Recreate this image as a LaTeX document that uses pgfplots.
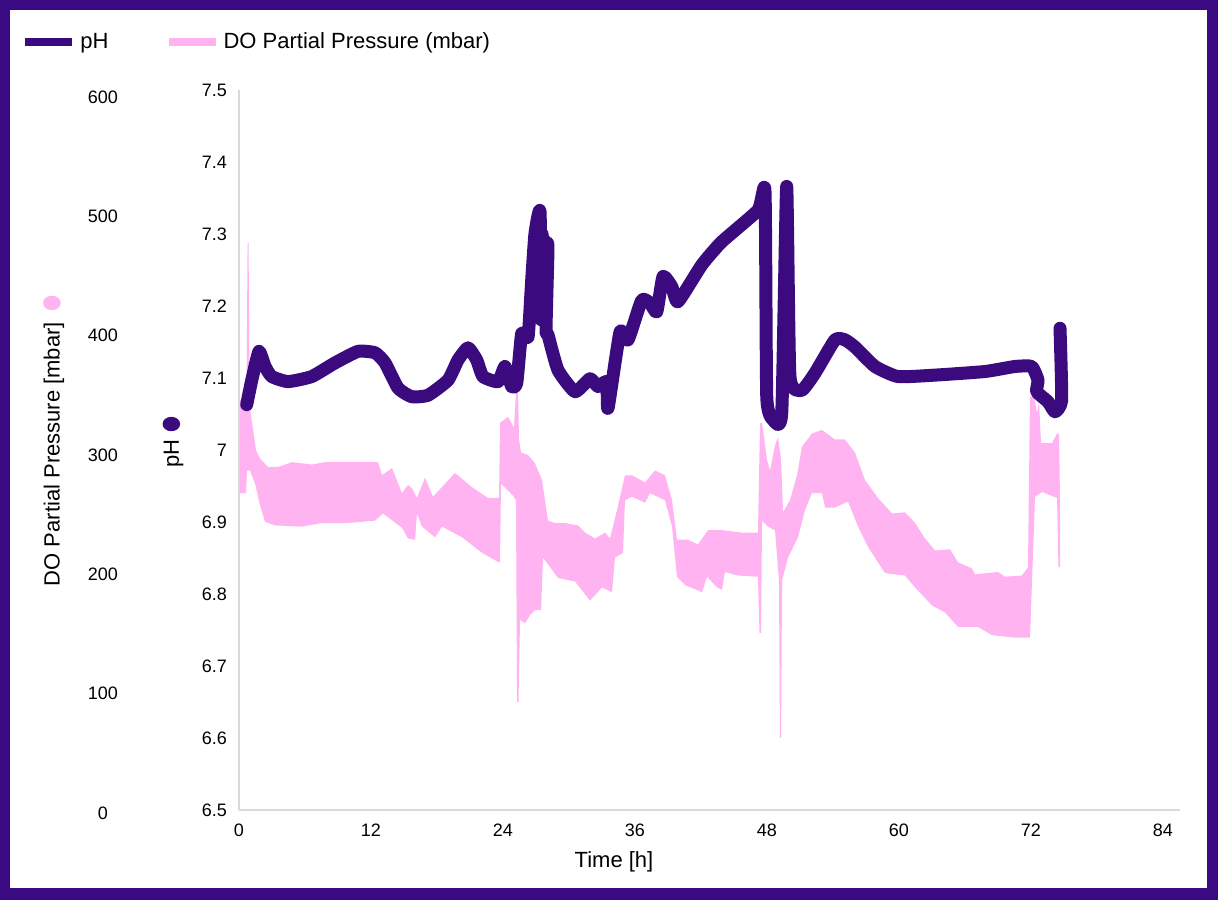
\documentclass[border=0pt]{standalone}
\usepackage{fontspec}
\setmainfont{Liberation Sans}
\usepackage{pgfplots}
\usepackage{pgfplotstable}
\pgfplotsset{compat=1.18}
\definecolor{phc}{HTML}{3A0A7E}
\definecolor{framec}{HTML}{3A0A82}
\definecolor{doc}{HTML}{FFB3F0}
\definecolor{axgray}{HTML}{D9D9D9}

\pgfplotstableread{
t ph
0.70 7.063
1.16 7.097
1.82 7.137
2.37 7.116
2.98 7.102
4.46 7.095
6.61 7.102
8.73 7.121
10.82 7.137
12.37 7.135
13.28 7.121
14.46 7.086
15.70 7.074
17.18 7.076
19.00 7.097
19.91 7.125
20.82 7.142
21.61 7.125
22.18 7.102
23.55 7.095
24.18 7.116
24.79 7.088
25.25 7.093
25.70 7.162
26.28 7.157
26.61 7.236
26.91 7.301
27.37 7.331
27.46 7.181
27.55 7.300
27.64 7.200
27.73 7.292
27.82 7.210
28.00 7.285
28.09 7.278
27.91 7.167
28.09 7.160
29.00 7.111
30.55 7.081
31.91 7.099
32.64 7.088
33.43 7.095
33.55 7.058
34.64 7.164
35.37 7.153
36.61 7.208
37.37 7.204
37.98 7.192
38.55 7.241
39.34 7.227
39.91 7.206
42.07 7.257
43.88 7.289
47.18 7.333
47.82 7.359
47.98 7.074
48.55 7.042
49.34 7.051
49.79 7.366
50.09 7.102
51.16 7.083
52.37 7.107
54.18 7.153
55.09 7.153
56.00 7.143
57.82 7.116
59.91 7.102
63.28 7.104
67.82 7.109
70.55 7.116
72.07 7.116
72.64 7.097
72.52 7.081
73.55 7.067
74.18 7.053
74.79 7.069
74.64 7.169
}\phdata

% DO partial pressure band: upper envelope (left to right), then lower envelope (right to left)
\pgfplotstableread{
t do
0.09 346
0.68 346
0.78 478
0.87 478
0.96 346
1.09 333
1.55 304
1.91 297
2.64 290
3.55 290
4.82 294
6.64 292
7.82 294
12.64 294
13.00 283
13.91 289
14.82 268
15.37 275
15.73 272
16.18 264
16.91 281
17.64 265
19.64 285
21.18 273
22.64 264
23.64 264
23.73 327
24.46 332
25.00 323
25.18 352
25.37 352
25.46 313
25.64 302
26.28 300
26.91 293
27.55 279
28.09 245
28.73 243
29.64 243
30.82 241
31.46 235
32.37 230
33.28 235
33.73 230
34.37 254
35.09 283
35.73 283
36.91 277
37.82 287
38.73 283
39.37 262
39.82 229
40.82 229
41.73 225
42.64 237
43.91 237
45.73 235
47.18 235
47.37 327
47.55 327
48.00 296
48.28 287
48.73 308
49.00 315
49.28 296
49.46 252
50.09 262
50.73 283
51.18 307
52.09 318
53.00 321
54.18 313
55.09 313
56.00 302
56.91 279
58.09 264
59.37 251
60.55 252
61.46 243
62.37 230
63.28 220
64.64 221
65.37 210
66.64 205
66.91 200
69.00 202
69.64 198
71.18 199
71.73 206
71.91 349
72.28 349
72.55 335
72.73 345
72.91 310
73.91 310
74.37 318
74.55 318
74.64 262
74.64 206
74.50 206
74.37 264
73.00 269
72.37 265
71.91 147
70.55 147
68.46 149
67.18 156
65.37 156
64.18 168
63.00 174
61.46 189
60.55 199
58.73 201
57.18 223
56.28 240
55.37 261
54.18 256
53.28 256
53.00 268
52.09 268
51.46 254
50.82 231
49.91 214
49.37 195
49.28 63
49.18 63
49.09 195
48.73 237
48.09 240
47.55 245
47.46 151
47.32 151
47.18 198
45.37 199
44.18 202
43.91 187
43.46 189
42.55 198
42.09 185
40.55 191
39.82 198
39.37 240
38.73 262
37.37 268
36.91 260
35.73 265
35.09 262
34.91 218
34.18 214
33.91 185
33.00 189
31.91 178
30.55 194
29.00 197
27.64 214
27.46 170
26.91 170
26.46 166
26.00 159
25.55 162
25.41 93
25.28 93
25.18 262
24.91 266
23.82 276
23.73 210
23.64 210
22.09 218
20.28 231
18.46 240
17.82 231
16.64 240
16.18 251
16.00 229
15.37 230
14.82 239
13.09 251
12.37 245
9.91 243
7.55 243
5.73 240
3.28 241
2.37 244
1.91 258
1.46 276
1.00 287
0.73 287
0.64 268
0.09 268
}\doband

\begin{document}
\begin{tikzpicture}
\fill[framec] (0,0) rectangle (609pt,450pt);
\fill[white] (5pt,6pt) rectangle (603.5pt,445pt);

% DO axis (drawn first, below pH)
\begin{axis}[
  at={(119.5pt,43.5pt)}, anchor=south west,
  scale only axis, width=470.5pt, height=358pt,
  xmin=0, xmax=85.55, ymin=0, ymax=600,
  axis x line=none, axis y line=left,
  y axis line style={draw=none},
  ytick={0,100,200,300,400,500,600},
  major tick length=0pt,
  /pgf/number format/assume math mode=true,
  yticklabel style={anchor=center, xshift=-68pt, font=\fontsize{9}{11}\selectfont},
  ylabel={DO Partial Pressure [mbar]\hspace{6pt}\tikz[baseline=-3.8pt]\fill[doc] (0,0) ellipse (3.6pt and 4.4pt);},
  ylabel style={at={(axis description cs:-0.197,0.5196)}, anchor=center, font=\fontsize{11}{13}\selectfont},
]
\addplot[fill=doc, draw=none] table[x=t,y=do] {\doband} -- cycle;
\end{axis}

% pH axis
\begin{axis}[
  at={(119.5pt,45pt)}, anchor=south west,
  scale only axis, width=470.5pt, height=360pt,
  xmin=0, xmax=85.55, ymin=6.5, ymax=7.5,
  axis x line=bottom, axis y line=left,
  axis line style={draw=axgray, line width=0.75pt, -},
  xtick={0,12,24,36,48,60,72,84},
  ytick={6.5,6.6,6.7,6.8,6.9,7,7.1,7.2,7.3,7.4,7.5},
  yticklabels={6.5,6.6,6.7,6.8,6.9,7,7.1,7.2,7.3,7.4,7.5},
  major tick length=0pt,
  /pgf/number format/assume math mode=true,
  ticklabel style={font=\fontsize{9}{11}\selectfont},
  xticklabel style={anchor=center, yshift=-10pt},
  yticklabel style={anchor=east, xshift=-2.5pt},
  xlabel={Time [h]},
  xlabel style={at={(axis description cs:0.3985,-0.0722)}, anchor=center, font=\fontsize{11}{13}\selectfont},
  ylabel={pH\hspace{4pt}\tikz[baseline=-3.8pt]\fill[phc] (0,0) ellipse (3.6pt and 4.4pt);},
  ylabel style={at={(axis description cs:-0.0701,0.511)}, anchor=center, font=\fontsize{11}{13}\selectfont},
  legend image code/.code={\draw[#1] (0pt,0pt) -- (23.5pt,0pt);},
  legend style={at={(axis description cs:-0.2316,1.0667)}, anchor=west,
    draw=none, fill=none, inner sep=0pt, font=\fontsize{11}{13}\selectfont,
    legend columns=2, /tikz/every even column/.append style={column sep=26pt}},
  legend cell align=left,
]
\addlegendimage{phc, line width=4pt}
\addlegendentry{pH}
\addlegendimage{doc, line width=4pt}
\addlegendentry{DO Partial Pressure (mbar)}
\addplot[phc, line width=6.5pt, line join=round, line cap=round, smooth, tension=0.3, forget plot] table[x=t,y=ph] {\phdata};
\end{axis}
\end{tikzpicture}
\end{document}
